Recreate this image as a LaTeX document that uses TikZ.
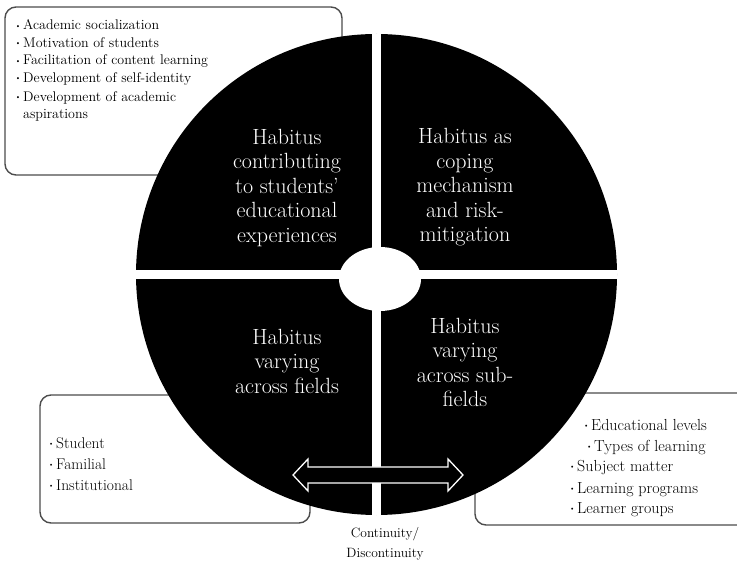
\documentclass[tikz,border=0pt]{standalone}
\usepackage{graphicx}
% small list bullet followed by a fixed gap
\newcommand{\bul}{\makebox[8pt][l]{\raisebox{0.25ex}{\scalebox{0.55}{\textbullet}}}}

\begin{document}
\begin{tikzpicture}[x=1pt,y=-1pt,
  infobox/.style={draw=black!70, line width=1.4pt, rounded corners=11pt, fill=white},
  quadtext/.style={text=white, align=center, inner sep=0pt, anchor=north,
                   font=\fontsize{22}{24.4}\selectfont},
  listtext/.style={align=left, inner sep=0pt, anchor=north west},
  arrowshape/.style={draw=white, line width=1.3pt, fill=black, line join=miter}]
\useasboundingbox (0,0) rectangle (737,561);
\clip (0,0) rectangle (737,561);

% side boxes, partly hidden behind the disc
\draw[infobox] (5,7) rectangle (342,175);
\draw[infobox] (40,395) rectangle (310,523);
\draw[infobox] (475,393) rectangle (760,525);

% black disc cut into four quadrants
\fill[black] (376.5,274.5) circle[radius=240.5pt];
\begin{scope}
  \clip (376.5,274.5) circle[radius=241pt];
  \fill[white] (372.3,0) rectangle (380.7,561);
  \fill[white] (0,270.5) rectangle (737,279.5);
\end{scope}
\fill[white] (380,279) ellipse[x radius=41pt, y radius=32pt];

% double-headed block arrow
\draw[arrowshape] (293,475) -- (308,459) -- (308,467) -- (448,467) -- (448,459)
  -- (463,475) -- (448,491) -- (448,483) -- (308,483) -- (308,491) -- cycle;

% quadrant labels
\node[quadtext] (q1) at (287,129) {Habitus\\contributing\\to students'\\educational\\experiences};
\node[quadtext] (q2) at (465,128.5) {Habitus as\\coping\\mechanism\\and risk-\\mitigation};
\node[quadtext] (q3) at (287,329) {Habitus\\varying\\across fields};
\node[quadtext] (q4) at (465,318) {Habitus\\varying\\across sub-\\fields};

% bullet lists
\node[listtext, font=\fontsize{14}{17.5}\selectfont] (l1) at (15,19.5)
  {\bul Academic socialization\\
   \bul Motivation of students\\
   \bul Facilitation of content learning\\
   \bul Development of self-identity\\[1.5pt]
   \bul Development of academic\\
   \hspace*{8pt}aspirations};
\node[listtext, font=\fontsize{15.5}{21}\selectfont] (l2) at (48,437)
  {\bul Student\\ \bul Familial\\ \bul Institutional};
\node[listtext, font=\fontsize{16}{20.3}\selectfont] (l3) at (569,419.4)
  {\hspace*{14pt}\bul Educational levels\\
   \hspace*{17pt}\bul Types of learning\\
   \bul Subject matter\\[1.5pt]
   \bul Learning programs\\
   \bul Learner groups};

% caption under the arrow
\node[align=center, inner sep=0pt, anchor=north, font=\fontsize{13.5}{20}\selectfont]
  (cd) at (385,527) {Continuity/\\Discontinuity};
\end{tikzpicture}
\end{document}
